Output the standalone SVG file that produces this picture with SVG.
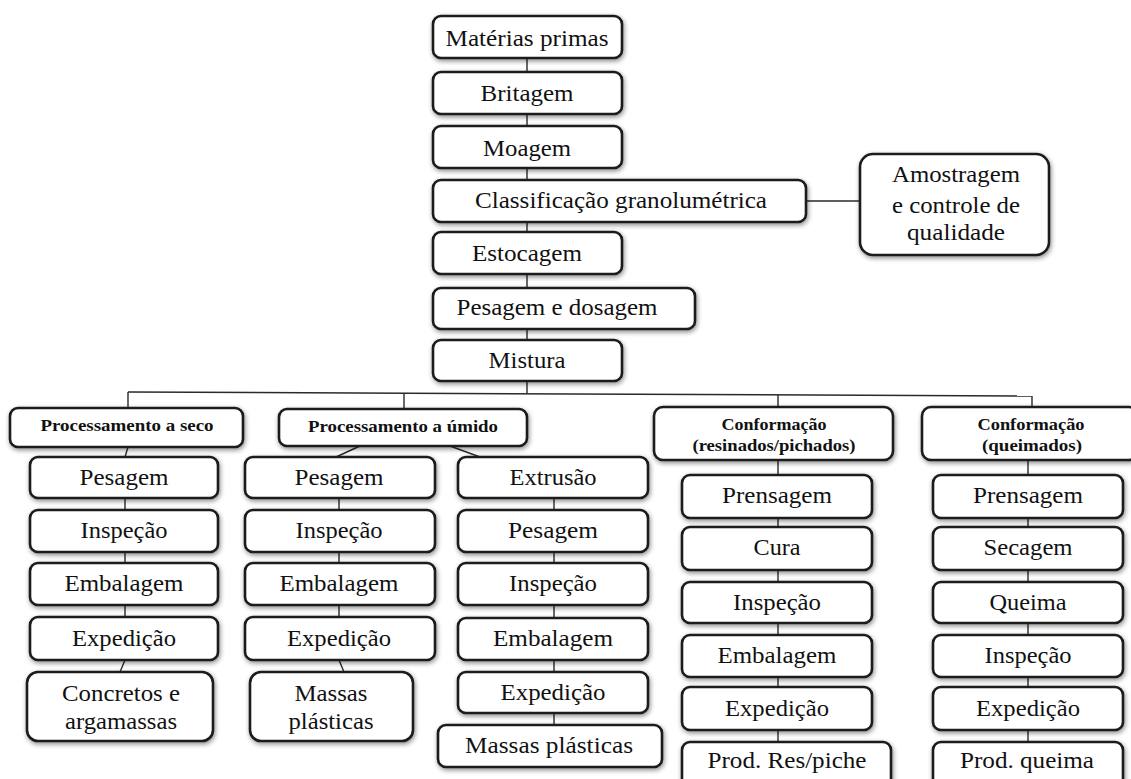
<svg xmlns="http://www.w3.org/2000/svg" width="1131" height="779" viewBox="0 0 1131 779">
<style>
.b{fill:#fff;stroke:#1a1a1a;stroke-width:2.6;filter:url(#sh)}
.t{font-family:"Liberation Serif",serif;font-size:24px;fill:#111;text-anchor:middle}
.h{font-family:"Liberation Serif",serif;font-size:17px;font-weight:bold;fill:#111;text-anchor:middle}
.c{stroke:#2a2a2a;stroke-width:1.4;fill:none}
</style>
<defs>
<filter id="sh" x="-10%" y="-25%" width="120%" height="150%">
<feGaussianBlur in="SourceAlpha" stdDeviation="2.5"/>
<feOffset dx="1" dy="1.5"/>
<feComponentTransfer><feFuncA type="linear" slope="0.45"/></feComponentTransfer>
<feMerge><feMergeNode/><feMergeNode in="SourceGraphic"/></feMerge>
</filter>
</defs>
<rect width="1131" height="779" fill="#fff"/>
<g id="connectors" class="c">
<path d="M527 58V72M527 114V126M527 168V180M527 222V232M527 274V288M527 329V340M527 381V394"/>
<path d="M806 201H860"/>
<path d="M128 392L1032 396"/>
<path d="M128 392V408M404 393V409M778 395V407M1032 396V407"/>
<path d="M128 447L125 457M125 498V510M125 552V563M125 605V617M125 660L120 672"/>
<path d="M360 446L336 457M339 498V510M339 552V563M339 605V617M339 660L344 672"/>
<path d="M450 446L480 457M554 498V510M554 552V563M554 605V618M554 660V672M554 713V725"/>
<path d="M778 460V475M778 518V527M778 570V582M778 623V635M778 677V687M778 730V742"/>
<path d="M1028 460V475M1028 518V527M1028 570V582M1028 623V635M1028 677V687M1028 730V742"/>
</g>
<g id="n-materias"><rect class="b" x="433" y="16" width="189" height="42" rx="8"/><text class="t" x="527" y="46" textLength="163" lengthAdjust="spacingAndGlyphs">Matérias primas</text></g>
<g id="n-britagem"><rect class="b" x="433" y="72" width="189" height="42" rx="8"/><text class="t" x="527" y="101" textLength="93" lengthAdjust="spacingAndGlyphs">Britagem</text></g>
<g id="n-moagem"><rect class="b" x="433" y="126" width="189" height="42" rx="8"/><text class="t" x="527" y="156" textLength="88" lengthAdjust="spacingAndGlyphs">Moagem</text></g>
<g id="n-classificacao"><rect class="b" x="433" y="180" width="373" height="42" rx="8"/><text class="t" x="621" y="208" textLength="292" lengthAdjust="spacingAndGlyphs">Classificação granolumétrica</text></g>
<g id="n-amostragem"><rect class="b" x="860" y="154" width="189" height="101" rx="13"/><text class="t" x="956" y="182" textLength="128" lengthAdjust="spacingAndGlyphs">Amostragem</text><text class="t" x="956" y="213" textLength="128" lengthAdjust="spacingAndGlyphs">e controle de</text><text class="t" x="956" y="240" textLength="98" lengthAdjust="spacingAndGlyphs">qualidade</text></g>
<g id="n-estocagem"><rect class="b" x="433" y="232" width="189" height="42" rx="8"/><text class="t" x="527" y="261" textLength="110" lengthAdjust="spacingAndGlyphs">Estocagem</text></g>
<g id="n-pesdos"><rect class="b" x="433" y="288" width="262" height="41" rx="8"/><text class="t" x="557" y="315" textLength="201" lengthAdjust="spacingAndGlyphs">Pesagem e dosagem</text></g>
<g id="n-mistura"><rect class="b" x="433" y="340" width="189" height="41" rx="8"/><text class="t" x="527" y="368" textLength="77" lengthAdjust="spacingAndGlyphs">Mistura</text></g>

<g id="h-seco"><rect class="b" x="10" y="408" width="233" height="39" rx="8"/><text class="h" x="127" y="431" textLength="173" lengthAdjust="spacingAndGlyphs">Processamento a seco</text></g>
<g id="h-umido"><rect class="b" x="279" y="409" width="248" height="37" rx="8"/><text class="h" x="403" y="432" textLength="190" lengthAdjust="spacingAndGlyphs">Processamento a úmido</text></g>
<g id="h-resinados"><rect class="b" x="654" y="407" width="239" height="53" rx="9"/><text class="h" x="774" y="430" textLength="105" lengthAdjust="spacingAndGlyphs">Conformação</text><text class="h" x="774" y="451" textLength="163" lengthAdjust="spacingAndGlyphs">(resinados/pichados)</text></g>
<g id="h-queimados"><rect class="b" x="922" y="407" width="216" height="53" rx="9"/><text class="h" x="1031" y="430" textLength="107" lengthAdjust="spacingAndGlyphs">Conformação</text><text class="h" x="1032" y="451" textLength="100" lengthAdjust="spacingAndGlyphs">(queimados)</text></g>

<g id="s-pesagem"><rect class="b" x="30" y="457" width="188" height="41" rx="8"/><text class="t" x="124" y="485" textLength="89" lengthAdjust="spacingAndGlyphs">Pesagem</text></g>
<g id="s-inspecao"><rect class="b" x="30" y="510" width="188" height="42" rx="8"/><text class="t" x="124" y="538" textLength="87" lengthAdjust="spacingAndGlyphs">Inspeção</text></g>
<g id="s-embalagem"><rect class="b" x="30" y="563" width="188" height="42" rx="8"/><text class="t" x="124" y="591" textLength="119" lengthAdjust="spacingAndGlyphs">Embalagem</text></g>
<g id="s-expedicao"><rect class="b" x="30" y="617" width="188" height="43" rx="8"/><text class="t" x="124" y="646" textLength="104" lengthAdjust="spacingAndGlyphs">Expedição</text></g>
<g id="s-concretos"><rect class="b" x="27" y="672" width="186" height="69" rx="11"/><text class="t" x="121" y="701" textLength="118" lengthAdjust="spacingAndGlyphs">Concretos e</text><text class="t" x="121" y="729" textLength="112" lengthAdjust="spacingAndGlyphs">argamassas</text></g>

<g id="u-pesagem"><rect class="b" x="245" y="457" width="190" height="41" rx="8"/><text class="t" x="339" y="485" textLength="89" lengthAdjust="spacingAndGlyphs">Pesagem</text></g>
<g id="u-inspecao"><rect class="b" x="245" y="510" width="190" height="42" rx="8"/><text class="t" x="339" y="538" textLength="87" lengthAdjust="spacingAndGlyphs">Inspeção</text></g>
<g id="u-embalagem"><rect class="b" x="245" y="563" width="190" height="42" rx="8"/><text class="t" x="339" y="591" textLength="119" lengthAdjust="spacingAndGlyphs">Embalagem</text></g>
<g id="u-expedicao"><rect class="b" x="245" y="617" width="190" height="43" rx="8"/><text class="t" x="339" y="646" textLength="104" lengthAdjust="spacingAndGlyphs">Expedição</text></g>
<g id="u-massas"><rect class="b" x="250" y="672" width="163" height="69" rx="11"/><text class="t" x="331" y="701" textLength="73" lengthAdjust="spacingAndGlyphs">Massas</text><text class="t" x="331" y="729" textLength="85" lengthAdjust="spacingAndGlyphs">plásticas</text></g>

<g id="e-extrusao"><rect class="b" x="458" y="457" width="190" height="41" rx="8"/><text class="t" x="553" y="485" textLength="87" lengthAdjust="spacingAndGlyphs">Extrusão</text></g>
<g id="e-pesagem"><rect class="b" x="458" y="510" width="190" height="42" rx="8"/><text class="t" x="553" y="538" textLength="90" lengthAdjust="spacingAndGlyphs">Pesagem</text></g>
<g id="e-inspecao"><rect class="b" x="458" y="563" width="190" height="42" rx="8"/><text class="t" x="553" y="591" textLength="88" lengthAdjust="spacingAndGlyphs">Inspeção</text></g>
<g id="e-embalagem"><rect class="b" x="458" y="618" width="190" height="42" rx="8"/><text class="t" x="553" y="646" textLength="120" lengthAdjust="spacingAndGlyphs">Embalagem</text></g>
<g id="e-expedicao"><rect class="b" x="458" y="672" width="190" height="41" rx="8"/><text class="t" x="553" y="700" textLength="105" lengthAdjust="spacingAndGlyphs">Expedição</text></g>
<g id="e-massas"><rect class="b" x="438" y="725" width="224" height="42" rx="8"/><text class="t" x="549" y="753" textLength="168" lengthAdjust="spacingAndGlyphs">Massas plásticas</text></g>

<g id="r-prensagem"><rect class="b" x="682" y="475" width="190" height="43" rx="8"/><text class="t" x="777" y="503" textLength="110" lengthAdjust="spacingAndGlyphs">Prensagem</text></g>
<g id="r-cura"><rect class="b" x="682" y="527" width="190" height="43" rx="8"/><text class="t" x="777" y="555" textLength="47" lengthAdjust="spacingAndGlyphs">Cura</text></g>
<g id="r-inspecao"><rect class="b" x="682" y="582" width="190" height="41" rx="8"/><text class="t" x="777" y="610" textLength="88" lengthAdjust="spacingAndGlyphs">Inspeção</text></g>
<g id="r-embalagem"><rect class="b" x="682" y="635" width="190" height="42" rx="8"/><text class="t" x="777" y="663" textLength="119" lengthAdjust="spacingAndGlyphs">Embalagem</text></g>
<g id="r-expedicao"><rect class="b" x="682" y="687" width="190" height="43" rx="8"/><text class="t" x="777" y="716" textLength="104" lengthAdjust="spacingAndGlyphs">Expedição</text></g>
<g id="r-prod"><rect class="b" x="682" y="742" width="209" height="50" rx="8"/><text class="t" x="787" y="768" textLength="159" lengthAdjust="spacingAndGlyphs">Prod. Res/piche</text></g>

<g id="q-prensagem"><rect class="b" x="933" y="475" width="190" height="43" rx="8"/><text class="t" x="1028" y="503" textLength="110" lengthAdjust="spacingAndGlyphs">Prensagem</text></g>
<g id="q-secagem"><rect class="b" x="933" y="527" width="190" height="43" rx="8"/><text class="t" x="1028" y="555" textLength="89" lengthAdjust="spacingAndGlyphs">Secagem</text></g>
<g id="q-queima"><rect class="b" x="933" y="582" width="190" height="41" rx="8"/><text class="t" x="1028" y="610" textLength="77" lengthAdjust="spacingAndGlyphs">Queima</text></g>
<g id="q-inspecao"><rect class="b" x="933" y="635" width="190" height="42" rx="8"/><text class="t" x="1028" y="663" textLength="87" lengthAdjust="spacingAndGlyphs">Inspeção</text></g>
<g id="q-expedicao"><rect class="b" x="933" y="687" width="190" height="43" rx="8"/><text class="t" x="1028" y="716" textLength="104" lengthAdjust="spacingAndGlyphs">Expedição</text></g>
<g id="q-prod"><rect class="b" x="933" y="742" width="190" height="50" rx="8"/><text class="t" x="1027" y="768" textLength="134" lengthAdjust="spacingAndGlyphs">Prod. queima</text></g>
</svg>
